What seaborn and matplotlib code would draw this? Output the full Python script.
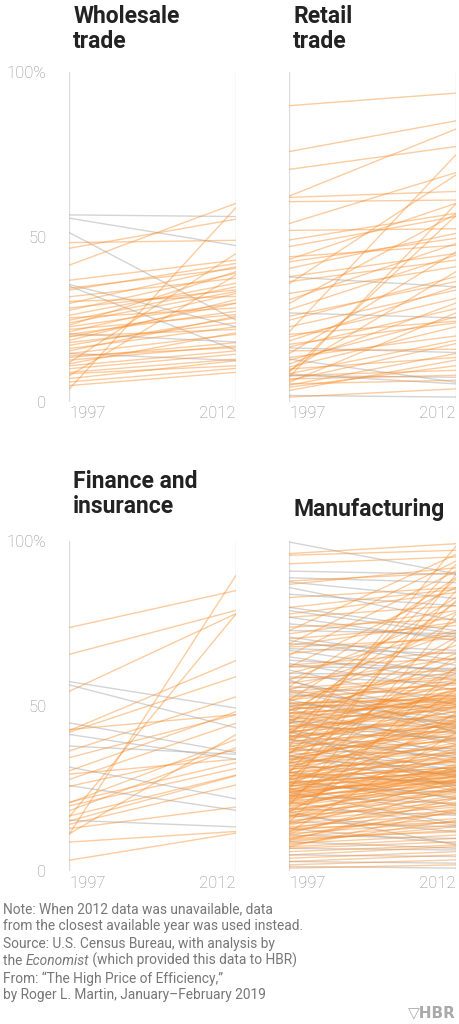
import pandas as pd
import seaborn as sns
import matplotlib.pyplot as plt

# share of the market (%) in 1997 and 2012, split by whether it rose or fell
wh_rose_1997 = [48.3, 46.6, 41.5, 4.0, 36.9, 33.9, 31.9, 29.9, 27.8, 26.3, 24.8, 24.0, 23.3, 22.8,
                21.3, 20.5, 19.7, 18.7, 17.2, 16.2, 15.5, 14.7, 13.5, 12.7, 11.6, 11.0, 10.1, 9.0,
                8.6, 7.1, 6.1, 5.0, 8.0, 12.0, 22.0, 25.5, 28.5, 30.5, 34.5, 18.0, 14.0, 20.0]
wh_rose_2012 = [49.0, 55.4, 60.2, 58.9, 43.0, 42.0, 37.5, 41.0, 39.0, 36.0, 34.9, 33.5, 39.5, 30.0,
                32.9, 27.5, 29.9, 31.0, 25.5, 22.8, 26.0, 20.5, 18.0, 17.0, 21.0, 15.5, 14.5, 13.0,
                11.0, 12.5, 10.2, 9.0, 38.5, 45.0, 26.5, 28.5, 34.0, 32.0, 40.5, 24.0, 16.5, 22.0]
wh_fell_1997 = [56.7, 55.7, 51.3, 35.6, 35.1, 20.7, 14.7]
wh_fell_2012 = [56.2, 47.4, 24.8, 22.8, 15.7, 18.2, 12.6]

rt_rose_1997 = [89.8, 75.9, 70.5, 62.4, 60.7, 62.0, 54.1, 49.1, 47.1, 43.2, 42.5, 40.5, 38.0, 35.9,
                32.9, 29.9, 24.8, 22.8, 21.3, 19.7, 16.7, 14.7, 12.7, 10.6, 9.1, 8.6, 7.6, 6.6,
                5.1, 3.5, 1.5, 9.5, 11.5, 8.0, 7.0, 5.5, 13.5, 17.5, 26.0, 31.0, 44.0, 52.0,
                36.5, 20.5, 4.5, 10.0, 6.0, 15.5, 28.0, 18.5]
rt_rose_2012 = [93.6, 85.2, 77.4, 82.7, 61.2, 63.8, 69.5, 57.2, 56.2, 60.2, 49.6, 51.1, 45.0, 68.8,
                41.0, 57.0, 38.0, 33.9, 74.9, 31.4, 28.3, 45.5, 25.8, 22.8, 56.5, 18.7, 60.0, 17.7,
                14.7, 12.7, 4.0, 39.5, 30.0, 9.6, 8.1, 6.6, 20.0, 24.0, 36.5, 48.0, 47.5, 52.5,
                43.0, 24.5, 11.0, 13.5, 27.0, 16.0, 44.5, 35.0]
rt_fell_1997 = [37.9, 27.0, 16.4, 13.0, 8.5, 8.0, 2.0]
rt_fell_2012 = [34.9, 25.5, 15.0, 6.0, 5.5, 7.5, 1.5]

fi_rose_1997 = [73.9, 65.8, 54.6, 11.4, 42.7, 42.2, 36.5, 34.5, 30.5, 27.9, 25.8, 20.8, 19.9,
                18.4, 16.8, 15.3, 14.3, 11.4, 8.9, 3.4, 21.0, 13.0, 29.5, 43.0, 16.6]
fi_rose_2012 = [85.1, 79.1, 78.1, 89.7, 63.9, 59.0, 52.9, 47.5, 48.4, 44.9, 36.8, 40.0, 31.2,
                37.5, 29.2, 29.0, 26.2, 41.5, 12.1, 11.6, 33.0, 19.5, 34.0, 47.5, 78.0]
fi_fell_1997 = [57.5, 56.5, 45.0, 41.5, 38.0, 31.6, 26.0, 15.5]
fi_fell_2012 = [49.5, 43.5, 36.0, 34.0, 35.5, 22.0, 18.5, 13.5]

mf_rose_1997 = [96.3, 95.8, 93.2, 88.0, 87.0, 80.0, 83.0, 77.0, 78.0, 74.0, 70.5, 72.0, 68.0, 68.5,
                66.0, 62.0, 62.5, 60.0, 58.5, 57.0, 55.5, 54.0, 52.5, 51.0, 50.0, 49.0, 48.0, 47.0,
                46.0, 45.0, 44.0, 43.0, 42.5, 42.0, 41.0, 40.0, 39.5, 39.0, 38.0, 37.0, 36.5, 36.0,
                35.0, 34.0, 33.5, 33.0, 32.0, 31.0, 30.5, 30.0, 29.0, 28.5, 28.0, 27.5, 27.0, 26.5,
                26.0, 25.5, 25.0, 24.5, 24.0, 23.5, 23.0, 22.5, 22.0, 21.5, 21.0, 20.5, 20.0, 19.5,
                19.0, 18.5, 18.0, 17.5, 17.0, 16.5, 16.0, 15.5, 15.0, 14.5, 14.0, 13.5, 13.0, 12.5,
                12.0, 11.5, 11.0, 10.5, 10.0, 9.5, 9.0, 8.5, 8.0, 7.5, 7.0, 6.0, 5.0, 4.0, 3.0,
                2.0, 1.0, 38.0, 25.0, 41.0, 30.0, 20.0, 44.5, 35.5, 28.0, 15.0, 48.5, 52.0, 56.0,
                22.0, 33.0, 18.0, 12.0, 45.5, 40.5, 26.0, 23.0, 30.5, 36.0, 42.0, 47.5, 51.5, 55.0,
                58.0, 62.0, 65.5, 69.0, 73.0, 37.5, 32.5, 29.5, 27.0, 24.5, 21.5, 19.0, 16.5, 14.5,
                11.5, 9.5, 7.5, 54.5, 53.0, 49.5, 46.5, 43.5, 40.5, 38.5, 34.5, 31.5, 29.0, 26.5,
                24.0, 22.5, 20.5, 18.5, 17.0, 13.0, 10.0,
                24.0, 25.0, 26.0, 27.0, 28.0, 29.0, 44.0, 45.0, 46.0, 47.0, 48.0, 49.0, 50.0, 51.0,
                52.0, 21.0, 22.0, 23.0, 30.0, 31.0, 32.0, 33.0, 34.0, 35.0, 40.0, 41.0, 42.0, 43.0,
                36.0, 37.0]
mf_rose_2012 = [99.3, 97.3, 95.3, 90.5, 92.0, 85.5, 86.0, 80.5, 84.5, 76.5, 74.5, 79.0, 70.5, 75.5,
                71.5, 64.5, 66.5, 73.0, 61.0, 64.5, 59.0, 56.5, 60.5, 52.0, 58.0, 54.5, 50.5, 63.5,
                49.0, 53.5, 47.0, 57.5, 45.0, 51.5, 44.0, 55.0, 42.5, 48.5, 41.0, 46.0, 39.5, 52.5,
                43.0, 37.5, 45.5, 36.0, 41.5, 34.5, 47.5, 33.0, 39.0, 31.5, 35.5, 43.5, 30.0, 33.5,
                28.5, 37.0, 31.0, 27.0, 34.0, 29.5, 26.0, 32.0, 28.0, 24.5, 36.5, 27.5, 25.0, 30.5,
                23.5, 26.5, 22.0, 29.0, 24.0, 21.0, 27.0, 19.5, 23.0, 18.5, 25.5, 17.5, 20.5, 16.0,
                22.5, 15.0, 18.0, 14.0, 19.0, 12.5, 13.5, 11.0, 15.5, 10.0, 9.0, 8.0, 7.5, 6.0, 5.0,
                3.5, 2.0, 98.5, 90.0, 93.0, 85.0, 78.0, 88.5, 82.0, 70.0, 62.0, 76.0, 83.0, 89.0,
                55.0, 65.0, 48.0, 42.0, 66.0, 60.0, 52.0, 45.5, 58.0, 61.5, 71.0, 81.5, 68.5, 72.5,
                78.5, 86.0, 91.0, 94.0, 96.0, 55.5, 50.0, 46.0, 40.5, 38.5, 34.5, 32.5, 31.5, 28.0,
                25.0, 22.0, 18.5, 58.5, 55.5, 51.5, 52.5, 50.0, 46.5, 44.5, 40.0, 38.0, 33.5, 30.5,
                29.0, 27.5, 26.0, 24.5, 20.0, 15.0, 12.0,
                28.5, 27.5, 29.5, 30.0, 31.5, 30.5, 52.0, 50.5, 53.0, 54.0, 51.0, 53.5, 55.5, 52.5,
                57.0, 27.0, 29.0, 30.5, 36.0, 34.0, 40.5, 38.0, 44.0, 42.0, 48.5, 47.0, 50.0, 49.5,
                43.5, 45.0]
mf_fell_1997 = [99.8, 91.0, 89.0, 87.7, 86.0, 84.0, 80.0, 79.0, 77.0, 73.0, 71.0, 69.0, 67.5, 67.0,
                65.0, 63.0, 61.0, 59.0, 57.5, 56.0, 54.5, 53.5, 52.0, 51.0, 50.5, 49.0, 48.0, 47.0,
                46.0, 45.5, 44.0, 43.0, 42.0, 41.0, 40.0, 39.0, 38.0, 37.0, 36.0, 35.0, 34.0, 33.0,
                32.0, 30.0, 29.0, 28.0, 26.0, 25.0, 23.0, 21.0, 19.0, 17.0, 15.0, 13.0, 11.0, 9.0,
                7.0, 5.0, 3.0, 1.5, 60.0, 62.0, 58.0, 42.5, 24.0, 18.0,
                55.0, 50.0, 45.0, 40.0, 35.0, 30.0, 27.0, 64.0, 70.0, 75.0]
mf_fell_2012 = [90.2, 90.0, 87.5, 82.7, 76.0, 80.5, 73.0, 72.0, 70.0, 72.0, 64.0, 67.0, 66.0, 60.0,
                58.0, 55.0, 50.5, 57.0, 48.0, 53.0, 44.0, 51.0, 42.5, 46.5, 49.5, 38.5, 45.5, 40.0,
                35.5, 43.5, 42.0, 33.0, 40.5, 37.0, 30.5, 36.5, 28.5, 35.0, 32.0, 26.0, 31.0, 24.5,
                29.5, 22.0, 27.0, 20.0, 24.0, 17.5, 20.5, 14.0, 17.0, 12.0, 13.5, 8.5, 10.0, 7.0,
                6.5, 4.5, 2.5, 1.0, 59.5, 61.5, 42.0, 25.0, 14.5, 8.0,
                47.0, 44.5, 39.5, 34.5, 29.0, 26.5, 22.5, 61.0, 62.5, 71.0]

panels = [
    ("Wholesale\ntrade", wh_rose_1997, wh_rose_2012, wh_fell_1997, wh_fell_2012),
    ("Retail\ntrade", rt_rose_1997, rt_rose_2012, rt_fell_1997, rt_fell_2012),
    ("Finance and\ninsurance", fi_rose_1997, fi_rose_2012, fi_fell_1997, fi_fell_2012),
    ("Manufacturing", mf_rose_1997, mf_rose_2012, mf_fell_1997, mf_fell_2012),
]

ORANGE = "#f98e2b"
GREY = "#a0a0a0"
TXT = "#8c8c8c"


def long_frame(rose_a, rose_b, fell_a, fell_b):
    rows = []
    for trend, a_list, b_list in (("fell", fell_a, fell_b), ("rose", rose_a, rose_b)):
        for i, (a, b) in enumerate(zip(a_list, b_list)):
            rows.append((trend, f"{trend}{i}", 1997, a))
            rows.append((trend, f"{trend}{i}", 2012, b))
    return pd.DataFrame(rows, columns=["trend", "line", "year", "share"])


sns.set_style("white")
plt.rcParams["font.family"] = ["Roboto", "DejaVu Sans"]

fig = plt.figure(figsize=(4.6, 10.24), dpi=100)
lefts = [0.151, 0.629]
bottoms = [0.6074, 0.149]
title_tops = [0.995, 0.541]

for k, (title, ra, rb, fa, fb) in enumerate(panels):
    row, col = divmod(k, 2)
    ax = fig.add_axes([lefts[col], bottoms[row], 0.362, 0.3223])
    df = long_frame(ra, rb, fa, fb)
    sns.lineplot(data=df, x="year", y="share", hue="trend", units="line", estimator=None,
                 hue_order=["fell", "rose"], palette={"fell": GREY, "rose": ORANGE},
                 lw=1.0, alpha=0.45, legend=False, ax=ax)
    ax.set_xlim(1997, 2012)
    ax.set_ylim(0, 100)
    for x in (1997, 2012):
        ax.axvline(x, color="#dddddd", lw=1.0, zorder=0)
    for s in ax.spines.values():
        s.set_visible(False)
    ax.spines["left"].set_position(("outward", 6))
    ax.set_xlabel("")
    ax.set_ylabel("")

    ax.set_xticks([1997, 2012])
    xl = ax.set_xticklabels(["1997", "2012"], fontsize=12, color=TXT, fontweight="light")
    xl[0].set_ha("left")
    xl[1].set_ha("right")
    ax.tick_params(axis="x", length=0, pad=3)

    ax.set_yticks([0, 50, 100])
    if col == 0:
        ax.set_yticklabels(["0", "50", "100%"], fontsize=12, color=TXT, fontweight="light")
        ax.tick_params(axis="y", length=7.5, width=1, color="#cccccc", pad=3)
    else:
        ax.tick_params(axis="y", left=False, labelleft=False)

    fig.text(lefts[col] + 0.008, title_tops[row] - (0.027 if title == "Manufacturing" else 0),
             title, fontsize=16.5, fontweight="bold", color="#222222", va="top", ha="left",
             linespacing=1.12)

# footnote
note = dict(fontsize=9.9, color="#777777")
y0 = 1 - 902 / 1024
step = 17.3 / 1024
fig.text(0.007, y0, "Note: When 2012 data was unavailable, data", va="top", **note)
fig.text(0.007, y0 - step, "from the closest available year was used instead.", va="top", **note)
fig.text(0.007, y0 - 2 * step, "Source: U.S. Census Bureau, with analysis by", va="top", **note)
t1 = fig.text(0.007, y0 - 3 * step, "the ", va="top", **note)
t2 = fig.add_artist(plt.Annotation("Economist", xy=(1, 0), xycoords=t1, va="bottom", ha="left",
                                   style="italic", annotation_clip=False, **note))
fig.add_artist(plt.Annotation(" (which provided this data to HBR)", xy=(1, 0), xycoords=t2,
                              va="bottom", ha="left", annotation_clip=False, **note))
fig.text(0.007, y0 - 4 * step, "From: \u201cThe High Price of Efficiency,\u201d", va="top", **note)
fig.text(0.007, y0 - 5 * step, "by Roger L. Martin, January\u2013February 2019", va="top", **note)
fig.text(0.99, 1 - 1017 / 1024, "\u25bdHBR", fontsize=11, fontweight="bold", color="#aaaaaa",
         ha="right", va="baseline", family=["DejaVu Sans"])

fig.savefig("out.png", dpi=100)
